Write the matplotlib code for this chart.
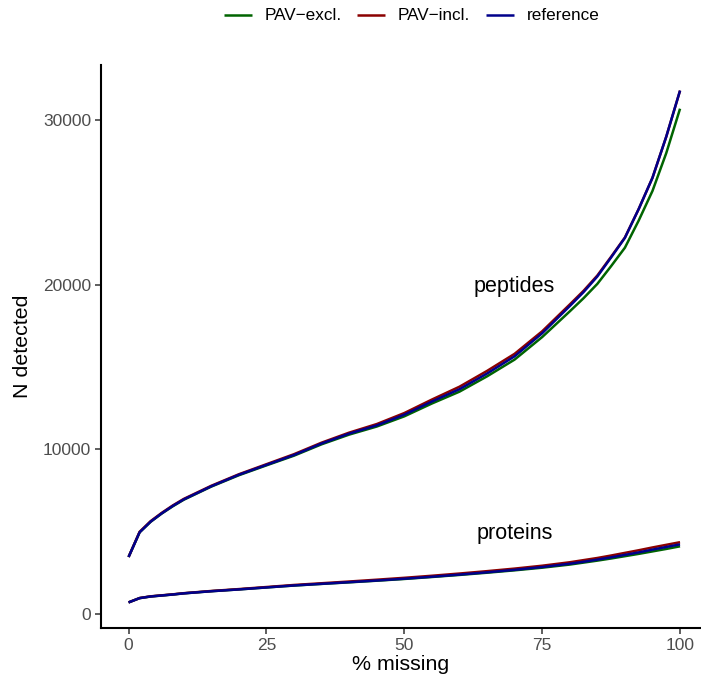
import matplotlib
matplotlib.use("Agg")
import matplotlib.pyplot as plt

plt.rcParams['font.family'] = ['Liberation Sans', 'DejaVu Sans']

# % missing (x) grid
pct_missing = [0, 2, 4, 6, 8, 10, 15, 20, 25, 30, 35, 40, 45, 50, 55, 60, 65, 70,
               75, 80, 82.5, 85, 87.5, 90, 92.5, 95, 97.5, 100]

# peptides
pep_reference = [3450, 4950, 5600, 6100, 6550, 6950, 7750, 8450, 9050, 9650, 10350,
                 10950, 11450, 12100, 12900, 13650, 14600, 15650, 17050, 18700,
                 19550, 20500, 21660, 22850, 24600, 26500, 29000, 31800]
pep_pav_incl = [3450, 4980, 5630, 6130, 6580, 6980, 7780, 8480, 9090, 9700, 10400,
                11010, 11530, 12200, 13020, 13800, 14760, 15800, 17170, 18800,
                19630, 20560, 21700, 22870, 24600, 26500, 29000, 31800]
pep_pav_excl = [3450, 4950, 5590, 6090, 6530, 6930, 7730, 8420, 9020, 9610, 10300,
                10890, 11380, 12000, 12780, 13500, 14430, 15450, 16820, 18380,
                19180, 20050, 21130, 22250, 23900, 25700, 28000, 30700]

# proteins
prot_reference = [690, 950, 1050, 1110, 1170, 1240, 1370, 1480, 1600, 1720, 1820,
                  1920, 2020, 2130, 2250, 2380, 2520, 2670, 2840, 3040, 3160, 3290,
                  3430, 3580, 3730, 3900, 4060, 4220]
prot_pav_incl = [690, 955, 1060, 1120, 1180, 1250, 1385, 1500, 1625, 1750, 1855,
                 1960, 2070, 2185, 2310, 2445, 2590, 2745, 2920, 3130, 3260, 3390,
                 3540, 3700, 3860, 4030, 4190, 4350]
prot_pav_excl = [690, 950, 1050, 1110, 1170, 1240, 1370, 1480, 1600, 1715, 1815,
                 1910, 2010, 2115, 2235, 2360, 2495, 2640, 2800, 2990, 3110, 3230,
                 3360, 3500, 3640, 3790, 3940, 4100]

series_names = ["PAV\u2212excl.", "PAV\u2212incl.", "reference"]
series_colors = ["#006400", "#8B0000", "#00008B"]

x_ticks = [0, 25, 50, 75, 100]
y_ticks = [0, 10000, 20000, 30000]

W, H = 701, 683
fig = plt.figure(figsize=(W / 100, H / 100), dpi=100)
ax = fig.add_axes([101 / W, (H - 628) / H, 1 - 101 / W, (628 - 65) / H])

pep = [pep_pav_excl, pep_pav_incl, pep_reference]
prot = [prot_pav_excl, prot_pav_incl, prot_reference]
handles = []
for name, col, p, q in zip(series_names, series_colors, pep, prot):
    h, = ax.plot(pct_missing, p, color=col, lw=1.8, label=name, solid_capstyle='butt')
    ax.plot(pct_missing, q, color=col, lw=1.8, solid_capstyle='butt')
    handles.append(h)

ax.text(70, 19900, "peptides", fontsize=15.5, ha='center', va='center', color='black')
ax.text(70, 4850, "proteins", fontsize=15.5, ha='center', va='center', color='black')

ymax_data = max(pep_reference)
ymin_data = min(prot_reference)
rng = ymax_data - ymin_data
ax.set_ylim(ymin_data - 0.05 * rng, ymax_data + 0.05 * rng)
ax.set_xlim(-5, 103.8)
ax.set_xticks(x_ticks)
ax.set_yticks(y_ticks)
ax.set_xticklabels([str(v) for v in x_ticks])
ax.set_yticklabels([str(v) for v in y_ticks])

for s in ['top', 'right']:
    ax.spines[s].set_visible(False)
for s in ['left', 'bottom']:
    ax.spines[s].set_linewidth(1.5)
    ax.spines[s].set_color('black')
ax.tick_params(axis='both', length=4, width=1.1, color='#333333',
               labelsize=12.5, labelcolor='#4D4D4D', pad=3)

ax.set_xlabel("% missing", fontsize=15.4, labelpad=2)
ax.set_ylabel("N detected", fontsize=15.4, labelpad=8)

fig.legend(handles=handles, labels=series_names, loc='center', ncol=3,
           bbox_to_anchor=(411.5 / W, 1 - 16 / H), frameon=False,
           fontsize=12.3, handlelength=1.65, handletextpad=0.75,
           columnspacing=0.9)

fig.savefig("out.png", dpi=100)
